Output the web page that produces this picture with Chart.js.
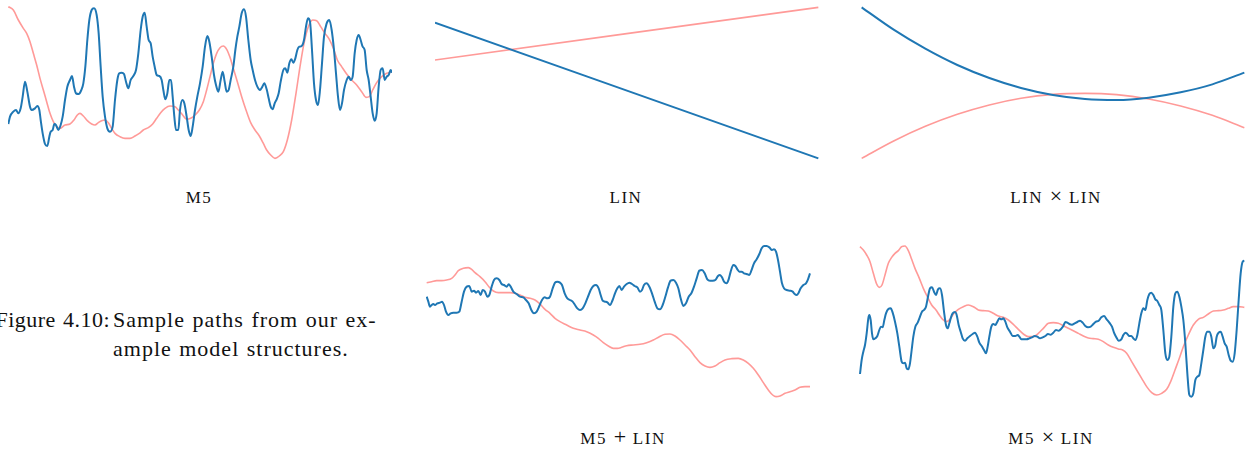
<!DOCTYPE html>
<html>
<head>
<meta charset="utf-8">
<script src="https://cdn.jsdelivr.net/npm/chart.js@4"></script>
<style>
  body { margin: 0; background: #fff; width: 1247px; height: 451px; overflow: hidden; position: relative; }
  canvas { position: absolute; }
  .lbl { position: absolute; width: 240px; text-align: center; font-family: "Liberation Serif", "DejaVu Serif", serif;
         font-size: 17px; line-height: 17px; text-transform: uppercase; letter-spacing: 1.5px; word-spacing: 1px;
         color: #111; white-space: nowrap; }
  .lbl .op { font-size: 22px; letter-spacing: 0; line-height: 0; }
  .cap { position: absolute; font-family: "Liberation Serif", "DejaVu Serif", serif; font-size: 22px; line-height: 22px;
         letter-spacing: 1px; word-spacing: 1px; color: #111; white-space: nowrap; }
</style>
</head>
<body>
<canvas id="p1" width="384" height="160" style="left:8px;top:0px"></canvas>
<canvas id="p2" width="384" height="160" style="left:435px;top:0px"></canvas>
<canvas id="p3" width="384" height="160" style="left:861px;top:0px"></canvas>
<canvas id="p4" width="386" height="180" style="left:426px;top:230px"></canvas>
<canvas id="p5" width="388" height="180" style="left:859px;top:230px"></canvas>

<div class="lbl" style="left:79px;top:189px">m5</div>
<div class="lbl" style="left:506px;top:189px">lin</div>
<div class="lbl" style="left:936px;top:189px">lin <span class="op">×</span> lin</div>
<div class="lbl" style="left:503px;top:430px">m5 <span class="op">+</span> lin</div>
<div class="lbl" style="left:931px;top:430px">m5 <span class="op">×</span> lin</div>

<div class="cap" style="right:1137px;top:309px;letter-spacing:0.5px">Figure 4.10:</div>
<div class="cap" style="left:113px;top:309px">Sample paths from our ex-</div>
<div class="cap" style="left:113px;top:338px">ample model structures.</div>

<script>
// sample paths, [t, value]
const m5Blue = [[25,108],[30,130],[40,145],[48,150],[55,140],[62,155],[68,190],[75,235],[82,205],[90,160],[95,150],[105,155],[112,162],[118,150],[122,120],[128,80],[135,48],[142,42],[148,70],[152,85],[158,90],[163,108],[168,105],[175,90],[182,105],[188,130],[195,180],[202,220],[210,240],[216,252],[222,220],[228,200],[236,198],[244,210],[250,230],[256,280],[262,360],[268,420],[275,450],[282,455],[290,435],[296,380],[302,280],[308,190],[315,130],[322,95],[330,85],[338,100],[345,180],[352,240],[358,260],[365,262],[372,258],[378,235],[385,215],[392,240],[400,252],[408,270],[415,320],[422,390],[428,430],[434,442],[440,400],[446,360],[452,350],[458,310],[464,280],[470,255],[478,252],[485,240],[490,210],[496,182],[502,200],[508,240],[513,240],[518,190],[523,130],[528,90],[535,90],[540,150],[547,180],[553,170],[560,130],[566,90],[572,72],[578,100],[585,150],[592,190],[600,230],[608,280],[615,340],[622,372],[628,355],[635,310],[642,255],[648,225],[655,205],[662,240],[668,265],[674,235],[680,205],[686,210],[692,240],[700,280],[706,330],[712,370],[718,400],[725,440],[732,452],[738,430],[745,360],[752,300],[758,270],[765,240],[772,220],[780,210],[786,218],[793,230],[800,212],[806,185],[812,160],[818,152],[824,170],[830,182],[836,200],[842,235],[850,270],[856,275],[862,262],[868,290],[874,302],[880,292],[886,305],[892,330],[898,340],[905,342],[912,360],[918,400],[924,425],[930,415],[936,330],[942,230],[948,180],[954,165],[960,210],[966,290],[972,370],[980,410],[988,420],[995,390],[1002,330],[1008,260],[1014,190],[1020,150],[1026,170],[1032,210],[1040,240],[1046,250],[1052,240],[1058,250],[1064,320],[1070,360],[1076,375],[1082,360],[1088,340],[1094,330],[1100,270],[1106,240],[1112,190],[1118,140],[1124,118],[1130,140],[1136,220],[1142,270],[1148,275],[1154,240],[1160,250],[1166,255],[1172,270],[1176,262]];
const m5Red = [[25,460],[40,450],[55,420],[70,395],[80,380],[90,355],[100,320],[110,285],[120,245],[130,210],[140,175],[150,140],[160,115],[170,100],[180,95],[195,105],[210,108],[222,120],[232,135],[240,140],[250,132],[262,118],[275,108],[285,105],[295,112],[305,118],[315,120],[325,112],[335,95],[345,80],[360,70],[375,65],[390,65],[405,72],[418,80],[430,90],[445,97],[458,108],[470,125],[482,142],[495,155],[510,162],[525,160],[535,150],[548,135],[560,122],[572,125],[585,135],[598,150],[610,175],[620,210],[630,250],[640,290],[650,320],[660,337],[670,342],[680,332],[690,308],[700,275],[712,235],[725,190],[738,150],[752,112],[765,90],[778,72],[790,50],[800,30],[812,15],[825,5],[838,12],[850,25],[862,60],[875,120],[888,200],[900,280],[912,350],[925,400],[938,420],[950,418],[962,400],[975,380],[988,362],[1000,335],[1012,300],[1025,280],[1040,258],[1055,240],[1070,225],[1085,205],[1098,188],[1108,190],[1118,210],[1130,232],[1145,250],[1160,260],[1175,265]];

const linBlue = [[45,412],[1195,5]];
const linRed = [[45,300],[1195,458]];

const linLinT = [35,131,226,322,418,513,609,705,800,896,992,1087,1183];
const linLinBlue = [458,391,334,285,246,216,195,183,180,187,203,227,262];
const linLinRed = [5,57,101,137,165,185,197,200,196,183,162,134,97];

const m5PlusBlue = [[20,340],[25,325],[30,310],[35,315],[40,318],[45,315],[52,320],[60,322],[66,325],[72,315],[78,295],[85,285],[92,290],[100,292],[110,292],[118,295],[125,325],[132,355],[140,370],[148,372],[155,355],[162,358],[168,352],[175,357],[182,345],[188,360],[195,355],[202,340],[208,345],[215,370],[222,390],[230,395],[238,390],[245,378],[252,375],[260,370],[266,377],[272,370],[280,355],[290,348],[300,340],[310,338],[318,330],[326,320],[334,300],[342,290],[350,295],[358,312],[366,330],[374,338],[382,335],[390,340],[398,365],[405,382],[412,385],[420,382],[426,375],[434,350],[442,335],[450,330],[458,325],[465,315],[472,305],[480,300],[488,305],[496,320],[504,340],[512,360],[520,372],[528,375],[536,365],[542,345],[548,328],[555,325],[562,323],[570,315],[578,330],[585,350],[592,365],[598,372],[605,360],[612,370],[620,378],[628,382],[636,378],[644,372],[652,368],[660,355],[666,360],[672,375],[680,380],[688,370],[696,350],[704,325],[712,305],[720,302],[728,315],[736,340],[744,368],[752,388],[760,390],[768,382],[775,365],[782,335],[790,312],[798,320],[806,340],[814,350],[822,370],[830,395],[838,418],[846,420],[854,410],[862,392],[870,388],[878,388],[886,390],[894,402],[900,405],[906,398],[912,385],[920,380],[926,392],[932,415],[940,435],[946,432],[952,422],[958,415],[965,415],[972,410],[980,408],[988,405],[994,418],[1002,440],[1010,452],[1018,468],[1025,485],[1032,492],[1040,492],[1048,488],[1056,480],[1062,482],[1068,475],[1074,450],[1080,415],[1086,380],[1092,365],[1100,360],[1110,358],[1118,355],[1124,348],[1130,345],[1136,352],[1142,365],[1150,375],[1158,380],[1164,392],[1170,410]];
const m5PlusRed = [[20,382],[35,385],[50,388],[65,388],[80,390],[95,395],[105,405],[115,418],[130,425],[145,427],[155,422],[165,412],[180,400],[195,385],[208,368],[220,357],[235,352],[250,352],[270,352],[285,350],[300,345],[315,338],[330,335],[345,330],[360,318],[375,302],[390,290],[405,275],[420,265],[440,255],[460,245],[480,240],[500,235],[520,225],[535,215],[550,202],[565,192],[580,185],[592,185],[605,188],[620,193],[640,195],[660,197],[680,202],[700,210],[718,220],[735,227],[750,228],[765,222],[780,210],[795,195],[810,180],[825,160],[840,142],[855,132],[870,128],[885,132],[900,142],[915,150],[935,154],[955,155],[970,150],[985,140],[1000,125],[1015,105],[1030,82],[1045,60],[1058,45],[1068,40],[1080,42],[1095,50],[1110,55],[1125,60],[1140,68],[1155,70],[1170,70]];

const m5TimesBlue = [[30,108],[35,150],[40,175],[45,195],[50,230],[55,275],[58,285],[62,270],[66,230],[70,212],[76,215],[82,222],[88,240],[93,250],[98,248],[103,270],[108,290],[115,303],[122,305],[128,292],[135,265],[142,230],[148,190],[155,145],[160,140],[165,142],[170,125],[175,122],[180,140],[185,180],[190,220],[196,250],[203,262],[210,280],[216,295],[222,300],[228,310],[234,340],[240,365],[246,368],[252,355],[258,345],[264,362],[270,365],[276,345],[282,295],[288,255],[293,245],[298,260],[303,278],[308,290],[315,294],[320,285],[326,255],[332,235],[338,215],[345,208],[352,215],[360,222],[368,228],[375,232],[382,220],[388,202],[395,192],[402,180],[408,170],[413,190],[418,220],[424,250],[430,258],[436,255],[442,265],[448,275],[454,272],[460,275],[466,265],[472,248],[480,235],[488,222],[496,222],[503,225],[508,220],[514,212],[522,212],[530,212],[538,215],[546,218],[554,222],[562,220],[570,215],[578,218],[586,222],[594,228],[602,226],[610,232],[618,240],[626,238],[634,244],[640,252],[646,264],[652,262],[658,258],[666,256],[674,260],[682,264],[690,268],[698,262],[706,252],[714,248],[722,250],[730,258],[738,265],[746,268],[754,278],[762,282],[770,272],[778,262],[786,250],[792,232],[798,220],[806,208],[814,212],[820,225],[826,232],[832,228],[838,222],[844,222],[850,215],[856,210],[862,225],[868,260],[874,290],[880,305],[886,300],[892,330],[898,348],[904,352],[910,345],[916,332],[922,327],[928,315],[934,300],[940,240],[946,170],[952,150],[958,160],[964,220],[970,310],[976,350],[982,355],[988,340],[994,310],[1000,270],[1006,200],[1012,110],[1018,45],[1024,40],[1030,50],[1036,90],[1042,100],[1048,105],[1054,140],[1060,180],[1066,220],[1072,235],[1078,235],[1084,220],[1090,185],[1096,195],[1100,220],[1106,232],[1112,235],[1118,220],[1124,200],[1130,190],[1136,165],[1142,148],[1148,145],[1154,170],[1160,240],[1166,330],[1172,410],[1178,445],[1183,448]];
const m5TimesRed = [[30,490],[40,480],[50,465],[60,445],[70,410],[80,378],[88,368],[96,375],[105,405],[115,440],[125,458],[135,470],[145,478],[155,490],[165,492],[175,478],[185,452],[195,425],[208,395],[220,365],[232,340],[245,315],[258,300],[268,285],[278,272],[290,265],[300,272],[312,290],[325,302],[340,310],[355,315],[370,310],[385,300],[400,298],[415,297],[430,290],[445,282],[460,278],[475,270],[490,257],[505,242],[520,228],[535,220],[550,220],[565,230],[580,245],[595,260],[610,262],[625,260],[640,253],[655,245],[670,238],[685,230],[700,222],[715,216],[730,214],[745,212],[760,205],[775,195],[790,188],[805,183],[818,180],[830,170],[845,145],[860,120],[875,95],[890,70],[905,52],[920,45],[935,50],[950,62],[962,85],[975,120],[988,155],[1000,190],[1015,225],[1030,255],[1045,272],[1060,278],[1075,288],[1090,297],[1105,298],[1120,300],[1135,305],[1150,310],[1165,310],[1183,308]];

const BLUE = "#1f77b4";
const PINK = "#ff9a98";

const toPts = (pairs) => pairs.map((p) => ({ x: p[0], y: p[1] }));

const buildPanel = (id, blue, red, xMin, xMax, yMax) => {
  const config = {
    type: "line",
    data: {
      datasets: [
        { data: blue, borderColor: BLUE, borderWidth: 2, pointRadius: 0, cubicInterpolationMode: "monotone", clip: false },
        { data: red, borderColor: PINK, borderWidth: 1.6, pointRadius: 0, cubicInterpolationMode: "monotone", clip: false },
      ],
    },
    options: {
      responsive: false,
      animation: false,
      events: [],
      layout: { padding: 0 },
      plugins: { legend: { display: false }, tooltip: { enabled: false } },
      scales: {
        x: { type: "linear", display: false, min: xMin, max: xMax },
        y: { type: "linear", display: false, min: 0, max: yMax },
      },
    },
  };
  return new Chart(document.getElementById(id), config);
};

buildPanel("p1", toPts(m5Blue), toPts(m5Red), 24, 1176, 480);
buildPanel("p2", toPts(linBlue), toPts(linRed), 45, 1197, 480);
buildPanel("p3",
  linLinT.map((t, i) => ({ x: t, y: linLinBlue[i] })),
  linLinT.map((t, i) => ({ x: t, y: linLinRed[i] })),
  33, 1185, 480);
buildPanel("p4", toPts(m5PlusBlue), toPts(m5PlusRed), 18, 1176, 540);
buildPanel("p5", toPts(m5TimesBlue), toPts(m5TimesRed), 27, 1191, 540);
</script>
</body>
</html>
